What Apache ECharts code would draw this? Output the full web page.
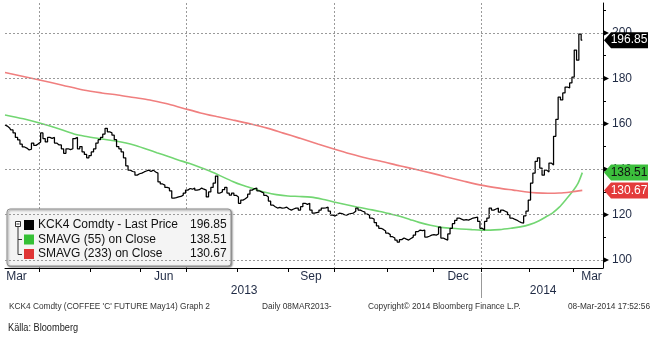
<!DOCTYPE html>
<html><head><meta charset="utf-8">
<script src="https://cdn.jsdelivr.net/npm/echarts@6/dist/echarts.min.js"></script>
<style>html,body{margin:0;padding:0;background:#fff}#c{width:656px;height:338px}</style>
</head><body><div id="c"></div>
<script>
// ---- data ----
const holidays = ['2013-03-29','2013-05-27','2013-07-04','2013-09-02','2013-11-28','2013-12-25','2014-01-01','2014-01-20','2014-02-17'];
const startDate = '2013-03-08';
const totalSlots = 261; // trading days shown incl. empty days to the right edge

const price = [
159.5,159.0,158.2,157.3,156.0,154.0,152.9,151.0,149.8,149.3,148.5,148.8,151.5,150.5,151.2,
152.0,156.0,153.5,152.0,154.0,153.6,154.0,151.5,150.7,150.7,149.0,147.0,149.0,148.6,149.0,153.5,154.0,149.0,150.0,147.6,146.5,145.0,
146.0,147.6,149.0,151.5,153.0,154.0,155.5,158.0,156.5,156.0,155.0,153.0,150.0,149.0,147.6,145.0,141.5,139.6,139.0,138.8,137.4,138.0,
138.3,138.8,139.2,139.6,139.0,139.6,138.8,138.3,134.4,133.5,133.0,132.0,131.7,130.5,127.3,127.5,127.8,128.0,128.6,129.5,
130.8,131.5,131.2,131.7,130.8,131.0,131.7,131.2,130.8,127.8,130.0,132.0,133.9,137.0,129.5,130.0,131.0,132.0,129.5,128.6,129.5,128.5,
127.8,125.0,126.4,127.0,127.8,129.0,130.8,131.5,131.7,130.5,130.0,129.5,128.5,127.8,126.0,124.2,123.5,122.9,123.2,122.9,123.0,123.3,
122.5,122.0,122.5,122.9,122.9,122.0,123.5,125.0,124.5,125.0,122.0,120.7,120.9,121.1,122.0,122.9,123.0,123.3,121.5,119.8,
119.4,120.0,120.7,120.5,120.0,119.8,120.2,120.5,120.7,121.5,122.9,122.0,121.5,121.1,120.2,119.8,118.5,118.0,116.5,115.0,114.0,113.5,112.8,
111.9,111.2,110.3,109.7,108.8,107.9,109.0,109.7,109.2,108.8,109.5,110.1,111.0,112.5,113.2,113.0,113.2,110.1,110.5,111.0,
111.2,111.0,111.5,114.5,109.7,109.2,108.8,111.5,114.0,116.0,117.5,118.5,118.0,117.6,117.8,117.6,118.0,118.5,118.7,118.9,117.0,
114.0,113.2,117.0,118.5,122.9,122.0,122.5,122.9,121.1,122.0,121.5,121.0,120.0,118.5,118.0,117.6,117.0,116.5,116.3,119.5,121.5,
126.4,133.9,138.3,143.5,145.0,140.5,137.4,139.6,138.8,142.7,141.9,154.5,162.0,171.8,170.5,173.6,176.2,175.8,178.0,
180.6,192.5,188.0,199.5,196.85
];
const sma55 = [[0,163.9],[8,162.2],[15,160.4],[22,158.3],[30,155.5],[36,154.3],[42,153.3],[48,152.4],[56,150.7],[62,148.7],[66,147.3],[71,145.6],[75,144.2],[80,142.6],[85,140.8],[89,139.2],[93,137.4],[99,134.6],[103,133.0],[107,131.7],[114,129.6],[118,128.8],[123,128.2],[128,128.0],[133,127.7],[138,126.8],[143,125.6],[148,124.5],[153,123.4],[158,122.4],[163,121.4],[168,120.2],[172,119.2],[176,117.9],[180,116.6],[185,115.3],[189,114.5],[194,114.0],[198,113.7],[203,113.4],[207,113.2],[211,113.2],[215,113.4],[220,114.0],[224,114.6],[228,115.6],[232,117.2],[236,119.5],[238,120.7],[241,123.3],[244,126.8],[247,130.5],[249,133.5],[251,138.51]];
const sma233 = [[0,182.6],[15,179.3],[25,177.0],[34,174.9],[42,173.6],[49,172.7],[56,171.6],[63,170.5],[70,168.9],[77,167.0],[85,164.8],[92,163.2],[99,161.7],[107,159.9],[114,158.1],[121,155.9],[128,153.7],[136,151.1],[143,148.9],[150,146.8],[157,144.9],[163,143.6],[172,141.4],[177,140.3],[185,138.4],[192,136.6],[200,134.6],[207,133.0],[214,131.8],[221,130.8],[226,130.1],[231,129.6],[236,129.4],[241,129.5],[246,130.0],[251,130.67]];
const lastPrice = 196.85, lastSma55 = 138.51, lastSma233 = 130.67;
const seriesNames = ['KCK4 Comdty - Last Price','SMAVG (55) on Close','SMAVG (233) on Close'];
const yLabelValues = [100,120,140,160,180,200];
const yMinorValues = [110,130,150,170,190,210];
const yMin = 96.5, yMax = 213.2;
const monthLabels = [['2013-03-15','Mar'],['2013-06-17','Jun'],['2013-09-17','Sep'],['2013-12-17','Dec'],['2014-03-13','Mar']];
const yearLabels = ['2013','2014'];
const footer = ["KCK4 Comdty (COFFEE 'C' FUTURE May14) Graph 2", 'Daily 08MAR2013-', 'Copyright\u00a9 2014 Bloomberg Finance L.P.', '08-Mar-2014 17:52:56'];
const sourceText = 'K\u00e4lla: Bloomberg';

// ---- categories (trading days) ----
const hol = new Set(holidays);
const cats = [];
let d = new Date(startDate + 'T00:00:00Z');
while (cats.length < totalSlots) {
  const s = d.toISOString().slice(0,10);
  const wd = d.getUTCDay();
  if (wd !== 0 && wd !== 6 && !hol.has(s)) cats.push(s);
  d = new Date(d.getTime() + 86400000);
}
const monthStart = new Set(), quarterStart = new Set();
let yearStart = 0;
for (let i = 1; i < cats.length; i++) {
  if (cats[i].slice(5,7) !== cats[i-1].slice(5,7)) {
    monthStart.add(i);
    const m = +cats[i].slice(5,7);
    if ((m - 1) % 3 === 0) quarterStart.add(i);
    if (m === 1) yearStart = i;
  }
}
const monthLabelMap = new Map(monthLabels);
const yearIdx = new Map([[Math.round(yearStart/2), yearLabels[0]], [Math.round((yearStart + cats.length - 1)/2), yearLabels[1]]]);
const lastIdx = cats.length - 1;

const FONT = "'Liberation Sans', Arial, sans-serif";
const LBL = '#1f2a44';
const flagPath = 'path://M0,8L7,0L44,0L44,16L7,16Z';
const triPath = 'path://M0,0L8,5L0,10Z';

function flag(v, fill, txt) {
  return { coord: [lastIdx, v], value: v, symbol: flagPath, symbolSize: [44, 16], symbolOffset: [23, 0],
    itemStyle: { color: fill }, label: { show: true, position: 'inside', offset: [3, 0], formatter: v.toFixed(2), color: txt, fontSize: 12, fontFamily: FONT } };
}
const triMarks = yLabelValues.map(v => ({ coord: [lastIdx, v], symbol: triPath, symbolSize: [6, 6], symbolOffset: [3, 0], itemStyle: { color: '#000' }, label: { show: false } }));

const chart = echarts.init(document.getElementById('c'));
const rowY = [225, 239.5, 254];
const legendColors = ['#000000', '#35c035', '#e03535'];
const legendVals = [lastPrice, lastSma55, lastSma233];
const g = [
  { type: 'rect', z: 1, shape: { x: 7, y: 209, width: 224, height: 57, r: 3 }, style: { fill: '#f4f4f4', stroke: '#8f8f8f', lineWidth: 1, shadowBlur: 2, shadowOffsetX: 1, shadowOffsetY: 1, shadowColor: 'rgba(0,0,0,0.45)' } },
  { type: 'rect', z: 1, shape: { x: 15.5, y: 221.5, width: 5, height: 5 }, style: { fill: '#fff', stroke: '#333', lineWidth: 1 } },
  { type: 'line', z: 1, shape: { x1: 16.5, y1: 224, x2: 19.5, y2: 224 }, style: { stroke: '#333', lineWidth: 1 } },
  { type: 'polyline', z: 1, shape: { points: [[18, 227], [18, 254.5], [22, 254.5]] }, style: { stroke: '#333', lineWidth: 1, fill: null } },
  { type: 'line', z: 1, shape: { x1: 18, y1: 239.5, x2: 22, y2: 239.5 }, style: { stroke: '#333', lineWidth: 1 } }
];
for (let k = 0; k < 3; k++) {
  g.push({ type: 'rect', z: 1, shape: { x: 24, y: rowY[k] - 5, width: 10, height: 10 }, style: { fill: legendColors[k] } });
  g.push({ type: 'text', z: 1, x: 38, y: rowY[k], style: { text: seriesNames[k], font: '12px ' + FONT, fill: '#111', verticalAlign: 'middle' } });
  g.push({ type: 'text', z: 1, x: 190, y: rowY[k], style: { text: legendVals[k].toFixed(2), font: '12px ' + FONT, fill: '#111', verticalAlign: 'middle' } });
}
g.push({ type: 'text', z: 1, x: 9, y: 307, style: { text: footer[0], font: '8.3px ' + FONT, fill: '#333', verticalAlign: 'middle' } });
g.push({ type: 'text', z: 1, x: 262, y: 307, style: { text: footer[1], font: '8.3px ' + FONT, fill: '#333', verticalAlign: 'middle' } });
g.push({ type: 'text', z: 1, x: 368, y: 307, style: { text: footer[2], font: '8.3px ' + FONT, fill: '#333', verticalAlign: 'middle' } });
g.push({ type: 'text', z: 1, x: 650, y: 307, style: { text: footer[3], font: '8.3px ' + FONT, fill: '#333', verticalAlign: 'middle', align: 'right' } });
g.push({ type: 'text', z: 1, x: 8, y: 328, scaleX: 0.8, style: { text: sourceText, font: '11.5px ' + FONT, fill: '#222', verticalAlign: 'middle' } });

chart.setOption({
  animation: false,
  textStyle: { fontFamily: FONT },
  grid: { left: 5, right: 53, top: 3, bottom: 70 },
  xAxis: [{
    type: 'category', data: cats, boundaryGap: false,
    axisLine: { lineStyle: { color: '#000', width: 1 } },
    axisTick: { interval: (i) => monthStart.has(i), length: 4, lineStyle: { color: '#000' } },
    axisLabel: { interval: (i, v) => monthLabelMap.has(v), formatter: (v) => monthLabelMap.get(v) || '', margin: 3, fontSize: 12, color: LBL, fontFamily: FONT },
    splitLine: { show: true, interval: (i) => quarterStart.has(i), lineStyle: { type: [2, 2], color: '#9a9a9a', width: 1 } }
  }, {
    type: 'category', data: cats, boundaryGap: false, position: 'bottom', offset: 5,
    axisLine: { show: false },
    axisTick: { show: true, interval: (i) => i === yearStart, length: 25, lineStyle: { color: '#999' } },
    axisLabel: { interval: (i) => yearIdx.has(i), formatter: (v, i) => yearIdx.get(i) || '', margin: 12, fontSize: 12, color: LBL, fontFamily: FONT },
    splitLine: { show: false }
  }],
  yAxis: {
    type: 'value', position: 'right', min: yMin, max: yMax,
    axisLine: { show: true, lineStyle: { color: '#000', width: 1 } },
    axisTick: { show: true, customValues: yMinorValues, length: 3, lineStyle: { color: '#000' } },
    axisLabel: { customValues: yLabelValues, margin: 9, fontSize: 12, color: LBL, fontFamily: FONT },
    splitLine: { show: false }
  },
  graphic: g,
  series: [{
    name: seriesNames[0], type: 'line', data: price, showSymbol: false, symbol: 'none', step: 'middle',
    lineStyle: { color: '#000', width: 1.25 }, z: 4,
    markLine: { silent: true, symbol: ['none', 'none'], label: { show: false }, lineStyle: { color: '#9a9a9a', type: [2, 2], width: 1 }, emphasis: { disabled: true },
      data: yLabelValues.map(v => ({ yAxis: v })) },
    markPoint: { silent: true, data: triMarks.concat([flag(lastPrice, '#000', '#fff')]) }
  }, {
    name: seriesNames[1], type: 'line', data: sma55, showSymbol: false, symbol: 'none', smooth: 0.3,
    lineStyle: { color: '#72d672', width: 1.6 }, z: 3,
    markPoint: { silent: true, data: [flag(lastSma55, '#3cbf3c', '#111')] }
  }, {
    name: seriesNames[2], type: 'line', data: sma233, showSymbol: false, symbol: 'none', smooth: 0.3,
    lineStyle: { color: '#f07f7f', width: 1.6 }, z: 3,
    markPoint: { silent: true, data: [flag(lastSma233, '#e33b3b', '#fff')] }
  }]
});
</script></body></html>
